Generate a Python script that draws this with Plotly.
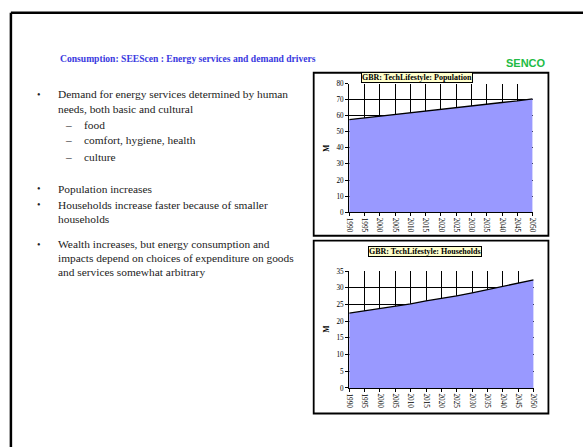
import plotly.graph_objects as go

W, H = 583, 447

# Data
years = [1990, 1995, 2000, 2005, 2010, 2015, 2020, 2025, 2030, 2035, 2040, 2045, 2050]
population = [57.6, 58.7, 59.5, 60.8, 62.0, 62.7, 64.0, 65.1, 66.2, 67.2, 68.2, 69.2, 70.5]
households = [22.4, 23.1, 23.6, 24.4, 25.2, 26.1, 26.8, 27.6, 28.5, 29.5, 30.4, 31.4, 32.4]

title_text = 'Consumption: SEEScen : Energy services and demand drivers'
pop_title = 'GBR: TechLifestyle: Population'
hh_title = 'GBR: TechLifestyle: Households'

bullets = [
    ('•', 'Demand for energy services determined by human', 93),
    ('', 'needs, both basic and cultural', 107.5),
    ('–', 'food', 124),
    ('–', 'comfort, hygiene, health', 140),
    ('–', 'culture', 156.5),
    ('•', 'Population increases', 189),
    ('•', 'Households increase faster because of smaller', 205.5),
    ('', 'households', 220),
    ('•', 'Wealth increases, but energy consumption and', 245.5),
    ('', 'impacts depend on choices of expenditure on goods', 260),
    ('', 'and services somewhat arbitrary', 274),
]


def px(x):
    return x / W


def py(y):
    return 1 - y / H


serif = 'Liberation Serif'
fill = '#9999FF'
body = dict(family=serif, size=11.4, color='#222222')

fig = go.Figure()

fig.add_trace(go.Scatter(x=years, y=population, mode='lines', fill='tozeroy',
                         fillcolor=fill, line=dict(color='black', width=1.3),
                         xaxis='x', yaxis='y', hoverinfo='skip'))
fig.add_trace(go.Scatter(x=years, y=households, mode='lines', fill='tozeroy',
                         fillcolor=fill, line=dict(color='black', width=1.3),
                         xaxis='x2', yaxis='y2', hoverinfo='skip'))

xaxis_common = dict(
    range=[1990, 2050], tickmode='array', tickvals=years,
    ticktext=[str(y) for y in years], tickangle=90,
    tickfont=dict(family=serif, size=7.2, color='black'),
    showgrid=True, gridcolor='black', gridwidth=1,
    showline=True, linecolor='black', linewidth=1.2,
    ticks='outside', ticklen=3, tickcolor='black', zeroline=False, mirror=False,
)
yaxis_common = dict(
    tickfont=dict(family=serif, size=7.2, color='black'),
    showgrid=True, gridcolor='black', gridwidth=1,
    showline=True, linecolor='black', linewidth=1.2,
    ticks='outside', ticklen=3, tickcolor='black', zeroline=False,
)

fig.update_layout(
    width=W, height=H, margin=dict(l=0, r=0, t=0, b=0),
    paper_bgcolor='white', plot_bgcolor='white', showlegend=False,
    xaxis=dict(domain=[px(350), px(536)], anchor='y', **xaxis_common),
    yaxis=dict(domain=[py(213), py(82)], anchor='x', range=[0, 80], dtick=10, **yaxis_common),
    xaxis2=dict(domain=[px(350), px(537)], anchor='y2', **xaxis_common),
    yaxis2=dict(domain=[py(392), py(273)], anchor='x2', range=[0, 35], dtick=5, **yaxis_common),
)

shapes = [
    # slide border
    dict(type='line', xref='paper', yref='paper', x0=px(7), x1=px(600), y0=py(10), y1=py(10),
         line=dict(color='black', width=2.5)),
    dict(type='line', xref='paper', yref='paper', x0=px(7), x1=px(7), y0=py(10), y1=py(460),
         line=dict(color='black', width=2.5)),
    # chart frames
    dict(type='rect', xref='paper', yref='paper', x0=px(314), x1=px(552), y0=py(237), y1=py(71),
         line=dict(color='black', width=1.8)),
    dict(type='rect', xref='paper', yref='paper', x0=px(314), x1=px(552), y0=py(418), y1=py(242),
         line=dict(color='black', width=1.8)),
]
fig.update_layout(shapes=shapes)

ann = []
ann.append(dict(text='<b>' + title_text + '</b>', x=px(55), y=py(57), xanchor='left', yanchor='middle',
                font=dict(family=serif, size=9.6, color='#3A3AE0')))
ann.append(dict(text='<b>SENCO</b>', x=px(529), y=py(61), xanchor='center', yanchor='middle',
                font=dict(family='Liberation Sans', size=11, color='#22BB44')))
for mark, txt, y in bullets:
    if mark == '•':
        ann.append(dict(text='•', x=px(35), y=py(y), xanchor='center', yanchor='middle',
                        font=dict(family=serif, size=10, color='#222222')))
        ann.append(dict(text=txt, x=px(53), y=py(y), xanchor='left', yanchor='middle', font=body))
    elif mark == '–':
        ann.append(dict(text='–', x=px(65), y=py(y), xanchor='center', yanchor='middle', font=body))
        ann.append(dict(text=txt, x=px(79), y=py(y), xanchor='left', yanchor='middle', font=body))
    else:
        ann.append(dict(text=txt, x=px(53), y=py(y), xanchor='left', yanchor='middle', font=body))

# chart titles in yellow boxes
ann.append(dict(text='<b>' + pop_title + '</b>', x=px(418.5), y=py(76), xanchor='center', yanchor='middle',
                font=dict(family=serif, size=8, color='black'), bgcolor='#FFFFCC',
                bordercolor='black', borderwidth=1, borderpad=0))
ann.append(dict(text='<b>' + hh_title + '</b>', x=px(426.5), y=py(253), xanchor='center', yanchor='middle',
                font=dict(family=serif, size=8, color='black'), bgcolor='#FFFFCC',
                bordercolor='black', borderwidth=1, borderpad=0))
# y axis titles
for yc in (148, 332):
    ann.append(dict(text='<b>M</b>', x=px(327), y=py(yc), xanchor='center', yanchor='middle',
                    textangle=-90, font=dict(family=serif, size=7.5, color='black')))

for a in ann:
    a.update(xref='paper', yref='paper', showarrow=False)
fig.update_layout(annotations=ann)

# drop the browser's default page margin so the figure sits at the window origin
fig.write_html('out.html', config={'displayModeBar': False},
               post_script="document.body.style.margin='0';document.body.style.overflow='hidden';")
